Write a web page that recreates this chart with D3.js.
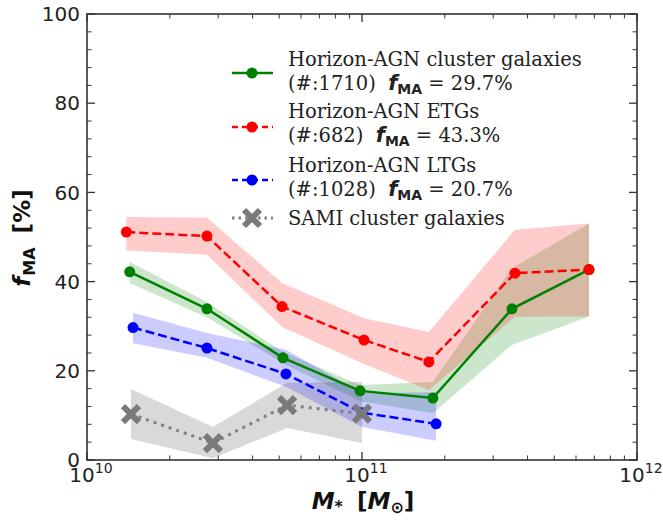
<!DOCTYPE html>
<html><head><meta charset="utf-8">
<script src="https://d3js.org/d3.v7.min.js"></script>
<style>body{margin:0;background:#fff}svg{display:block}</style>
</head><body><svg id="c" width="663" height="521"></svg>
<script>
// ---- data ----
const greenMass = [1.43e10, 2.73e10, 5.16e10, 9.84e10, 1.81e11, 3.51e11, 6.69e11];
const greenVal  = [42.2, 33.9, 22.9, 15.5, 13.9, 33.9, 42.7];
const greenLo   = [39.7, 32.0, 21.7, 13.2, 10.5, 25.8, 32.2];
const greenHi   = [44.4, 35.4, 24.2, 16.8, 17.5, 43.0, 53.0];

const redMass = [1.39e10, 2.73e10, 5.12e10, 1.017e11, 1.75e11, 3.6e11, 6.69e11];
const redVal  = [51.1, 50.2, 34.4, 26.9, 22.0, 41.9, 42.7];
const redLo   = [47.0, 46.0, 29.8, 21.5, 15.7, 32.1, 32.2];
const redHi   = [54.5, 54.3, 39.7, 31.8, 28.7, 51.6, 53.0];

const blueMass = [1.47e10, 2.73e10, 5.29e10, 1.0e11, 1.86e11];
const blueVal  = [29.7, 25.1, 19.3, 10.6, 8.1];
const blueLo   = [26.2, 22.9, 16.4, 7.4, 4.3];
const blueHi   = [33.0, 28.5, 24.7, 15.0, 15.2];

const samiMass = [1.445e10, 2.87e10, 5.34e10, 1.0e11];
const samiVal  = [10.3, 3.8, 12.3, 10.4];
const samiLo   = [4.7, 0.4, 7.2, 3.8];
const samiHi   = [15.9, 7.4, 17.3, 17.5];

const yTicks = [0, 20, 40, 60, 80, 100];
const xTickExps = [10, 11, 12];

// ---- layout ----
const svg = d3.select("#c");
const L = 87, R = 637, T = 14, B = 460;
const x = d3.scaleLog().domain([1e10, 1e12]).range([L, R]);
const y = d3.scaleLinear().domain([0, 100]).range([B, T]);

const series = [
  {mass: greenMass, val: greenVal, lo: greenLo, hi: greenHi, color: "#008000", dash: null},
  {mass: redMass, val: redVal, lo: redLo, hi: redHi, color: "#ff0000", dash: "9,4"},
  {mass: blueMass, val: blueVal, lo: blueLo, hi: blueHi, color: "#0000ff", dash: "9,4"},
];

const area = (m, lo, hi) => d3.area().x((d,i)=>x(m[i])).y0((d,i)=>y(lo[i])).y1((d,i)=>y(hi[i]))(m);
const line = (m, v) => d3.line().x((d,i)=>x(m[i])).y((d,i)=>y(v[i]))(m);

// bands
svg.append("path").attr("d", area(samiMass, samiLo, samiHi)).attr("fill", "#808080").attr("fill-opacity", 0.3);
series.forEach(s => {
  svg.append("path").attr("d", area(s.mass, s.lo, s.hi)).attr("fill", s.color).attr("fill-opacity", 0.2);
});

// lines + markers
series.forEach(s => {
  svg.append("path").attr("d", line(s.mass, s.val)).attr("fill", "none")
    .attr("stroke", s.color).attr("stroke-width", 2.5).attr("stroke-dasharray", s.dash);
  svg.selectAll(null).data(s.mass).enter().append("circle")
    .attr("cx", d=>x(d)).attr("cy", (d,i)=>y(s.val[i])).attr("r", 5.5).attr("fill", s.color);
});

// SAMI
svg.append("path").attr("d", line(samiMass, samiVal)).attr("fill", "none")
  .attr("stroke", "#808080").attr("stroke-width", 3).attr("stroke-dasharray", "3,5").attr("stroke-linecap", "butt");
function cross(g, cx, cy, s, w) {
  g.append("path").attr("d", `M${cx-s},${cy-s}L${cx+s},${cy+s}M${cx-s},${cy+s}L${cx+s},${cy-s}`)
    .attr("stroke", "#7a7a7a").attr("stroke-width", w).attr("fill", "none");
}
samiMass.forEach((m, i) => cross(svg, x(m), y(samiVal[i]), 8, 6));

// ---- axes ----
const axColor = "#333";
const axes = svg.append("g");
axes.append("rect").attr("x", L).attr("y", T).attr("width", R-L).attr("height", B-T)
  .attr("fill", "none").attr("stroke", axColor).attr("stroke-width", 1.6);

// y ticks
const yMinor = d3.range(0, 101, 4).filter(v => v % 20 !== 0);
yTicks.forEach(v => {
  axes.append("line").attr("x1", L).attr("x2", L+8).attr("y1", y(v)).attr("y2", y(v)).attr("stroke", axColor).attr("stroke-width", 1.3);
  axes.append("line").attr("x1", R).attr("x2", R-8).attr("y1", y(v)).attr("y2", y(v)).attr("stroke", axColor).attr("stroke-width", 1.3);
  axes.append("text").attr("x", L-7).attr("y", y(v)).attr("dy", "0.36em").attr("text-anchor", "end")
    .attr("font-family", "DejaVu Sans").attr("font-size", 20).attr("fill", "#222").text(v);
});
yMinor.forEach(v => {
  axes.append("line").attr("x1", L).attr("x2", L+4.5).attr("y1", y(v)).attr("y2", y(v)).attr("stroke", axColor).attr("stroke-width", 1);
  axes.append("line").attr("x1", R).attr("x2", R-4.5).attr("y1", y(v)).attr("y2", y(v)).attr("stroke", axColor).attr("stroke-width", 1);
});

// x ticks
xTickExps.forEach(e => {
  const px = x(Math.pow(10, e));
  axes.append("line").attr("x1", px).attr("x2", px).attr("y1", B).attr("y2", B-8).attr("stroke", axColor).attr("stroke-width", 1.3);
  axes.append("line").attr("x1", px).attr("x2", px).attr("y1", T).attr("y2", T+8).attr("stroke", axColor).attr("stroke-width", 1.3);
  const t = axes.append("text").attr("x", px + 4).attr("y", 482).attr("text-anchor", "middle")
    .attr("font-family", "DejaVu Sans").attr("font-size", 20).attr("fill", "#222");
  t.append("tspan").text("10");
  t.append("tspan").attr("dy", -9).attr("font-size", 14).text(e);
});
[1e10, 1e11].forEach(base => {
  for (let k = 2; k <= 9; k++) {
    const px = x(base*k);
    axes.append("line").attr("x1", px).attr("x2", px).attr("y1", B).attr("y2", B-4.5).attr("stroke", axColor).attr("stroke-width", 1);
    axes.append("line").attr("x1", px).attr("x2", px).attr("y1", T).attr("y2", T+4.5).attr("stroke", axColor).attr("stroke-width", 1);
  }
});

// axis labels
const yl = svg.append("text").attr("transform", "translate(30,238) rotate(-90)").attr("text-anchor", "middle")
  .attr("font-family", "DejaVu Sans").attr("font-weight", "bold").attr("font-size", 23).attr("fill", "#111");
yl.append("tspan").attr("font-style", "italic").text("f");
yl.append("tspan").attr("font-size", 16).attr("dy", 5).attr("dx", 1).text("MA");
yl.append("tspan").attr("dy", -5).attr("dx", 14).text("[%]");

const xl = svg.append("text").attr("x", 363).attr("y", 509).attr("text-anchor", "middle")
  .attr("font-family", "DejaVu Sans").attr("font-weight", "bold").attr("font-size", 23).attr("fill", "#111");
xl.append("tspan").attr("font-style", "italic").text("M");
xl.append("tspan").attr("font-size", 16).attr("dy", 3).text("*");
xl.append("tspan").attr("dy", -3).attr("dx", 14).text("[");
xl.append("tspan").attr("font-style", "italic").text("M");
xl.append("tspan").attr("font-size", 16).attr("dy", 4).text("⊙");
xl.append("tspan").attr("dy", -4).text("]");

// ---- legend ----
const legendNames = ["Horizon-AGN cluster galaxies", "Horizon-AGN ETGs", "Horizon-AGN LTGs", "SAMI cluster galaxies"];
const legendCounts = ["(#:1710)", "(#:682)", "(#:1028)", null];
const legendFrac = ["29.7%", "43.3%", "20.7%", null];
const legendColors = ["#008000", "#ff0000", "#0000ff", "#808080"];
const legendDash = [null, "6,4", "6,4", "2.5,4"];
const baseY = [66, 118, 172, 225];
const handleY = [73, 127, 180, 218];
const lg = svg.append("g");
legendNames.forEach((nm, i) => {
  lg.append("line").attr("x1", 232).attr("x2", 273).attr("y1", handleY[i]).attr("y2", handleY[i])
    .attr("stroke", legendColors[i]).attr("stroke-width", i===3?3:2.5).attr("stroke-dasharray", legendDash[i]);
  if (i < 3) lg.append("circle").attr("cx", 252).attr("cy", handleY[i]).attr("r", 5.5).attr("fill", legendColors[i]);
  else cross(lg, 252, handleY[i], 8, 6);
  lg.append("text").attr("x", 288).attr("y", baseY[i]).attr("font-family", "DejaVu Serif").attr("font-size", 19.5)
    .attr("fill", "#222").text(nm);
  if (legendCounts[i]) {
    const t = lg.append("text").attr("x", 288).attr("y", baseY[i] + 24).attr("font-family", "DejaVu Serif")
      .attr("font-size", 19.5).attr("fill", "#222").attr("xml:space", "preserve");
    t.append("tspan").text(legendCounts[i] + "  ");
    t.append("tspan").attr("font-family", "DejaVu Sans").attr("font-weight", "bold").attr("font-style", "italic").attr("font-size", 21).text("f");
    t.append("tspan").attr("font-family", "DejaVu Sans").attr("font-weight", "bold").attr("font-size", 14).attr("dy", 4).text("MA");
    t.append("tspan").attr("dy", -4).text(" = " + legendFrac[i]);
  }
});
</script></body></html>
